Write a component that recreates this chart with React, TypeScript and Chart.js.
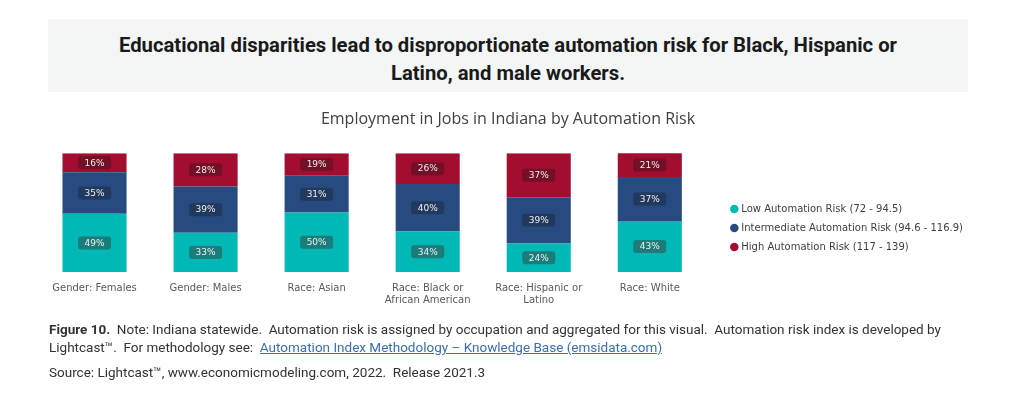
import React, { useEffect, useRef } from "react";
import { Chart, registerables } from "chart.js";

Chart.register(...registerables);

const categories: (string | string[])[] = [
  "Gender: Females",
  "Gender: Males",
  "Race: Asian",
  ["Race: Black or", "African American"],
  ["Race: Hispanic or", "Latino"],
  "Race: White",
];
const lowRisk = [49, 33, 50, 34, 24, 43];
const intermediateRisk = [35, 39, 31, 40, 39, 37];
const highRisk = [16, 28, 19, 26, 37, 21];
const seriesNames = [
  "Low Automation Risk (72 - 94.5)",
  "Intermediate Automation Risk (94.6 - 116.9)",
  "High Automation Risk (117 - 139)",
];
const seriesColors = ["#00b8b5", "#274b80", "#a30d2f"];
const labelBoxColors = ["#1a7d7a", "#22395e", "#730f26"];

const valueLabelPlugin = {
  id: "valueLabels",
  afterDatasetsDraw(chart: any) {
    const ctx = chart.ctx;
    ctx.save();
    chart.data.datasets.forEach((ds: any, di: number) => {
      const meta = chart.getDatasetMeta(di);
      meta.data.forEach((bar: any, i: number) => {
        const v = ds.data[i];
        const top = Math.max(bar.y, chart.chartArea.top);
        const cx = bar.x;
        const cy = (top + bar.base) / 2;
        const w = 33;
        const h = 13;
        ctx.fillStyle = labelBoxColors[di];
        ctx.beginPath();
        ctx.roundRect(cx - w / 2, cy - h / 2, w, h, 3);
        ctx.fill();
        ctx.fillStyle = "#eeeeee";
        ctx.font = "9px 'DejaVu Sans'";
        ctx.textAlign = "center";
        ctx.textBaseline = "middle";
        ctx.fillText(v + "%", cx, cy + 0.5);
      });
    });
    ctx.restore();
  },
};

// leaves a gap between the plot area and the right-hand legend
const legendGapPlugin = {
  id: "legendGap",
  beforeLayout(chart: any) {
    const lg = chart.legend;
    if (lg && !lg.__gapWrapped) {
      const fit = lg.fit;
      lg.fit = function () {
        fit.call(this);
        this.width += 22;
      };
      lg.__gapWrapped = true;
    }
  },
  afterLayout(chart: any) {
    const lg = chart.legend;
    if (lg) lg.left += 18;
  },
};

function ChartView() {
  const ref = useRef<HTMLCanvasElement | null>(null);
  useEffect(() => {
    if (!ref.current) return;
    const data = [lowRisk, intermediateRisk, highRisk];
    const chart = new Chart(ref.current, {
      type: "bar",
      data: {
        labels: categories,
        datasets: data.map((d, i) => ({
          label: seriesNames[i],
          data: d,
          backgroundColor: seriesColors[i],
          borderWidth: 0,
          barPercentage: 0.577,
          categoryPercentage: 1,
        })),
      },
      options: {
        animation: false,
        responsive: false,
        maintainAspectRatio: false,
        layout: { padding: 0 },
        scales: {
          x: {
            stacked: true,
            grid: { display: false, drawTicks: false },
            border: { display: false },
            ticks: {
              padding: 10,
              color: "#595959",
              font: { family: "'DejaVu Sans'", size: 10 },
              maxRotation: 0,
              autoSkip: false,
            },
            afterFit: (scale: any) => {
              scale.height = 80;
            },
          },
          y: {
            stacked: true,
            display: false,
            min: 0,
            max: 100,
          },
        },
        plugins: {
          title: {
            display: true,
            text: "Employment in Jobs in Indiana by Automation Risk",
            color: "#404040",
            font: { family: "'Open Sans'", size: 16, weight: "normal" },
            padding: { top: 6, bottom: 24 },
          },
          legend: {
            position: "right",
            labels: {
              usePointStyle: true,
              pointStyle: "circle",
              boxWidth: 4,
              boxHeight: 6,
              padding: 9,
              color: "#404040",
              font: { family: "'DejaVu Sans'", size: 10 },
            },
          },
          tooltip: { enabled: false },
        },
      },
      plugins: [valueLabelPlugin, legendGapPlugin],
    } as any);
    return () => chart.destroy();
  }, []);
  return (
    <canvas
      ref={ref}
      width={938}
      height={248}
      style={{ position: "absolute", left: 39, top: 104, width: 938, height: 248 }}
    />
  );
}

const lineStyle: React.CSSProperties = { height: 18, lineHeight: "18px", whiteSpace: "nowrap" };

export default function App() {
  return (
    <div
      style={{
        position: "absolute",
        left: 0,
        top: 0,
        width: 1024,
        height: 399,
        background: "#ffffff",
        overflow: "hidden",
      }}
    >
      <div
        style={{
          position: "absolute",
          left: 48,
          top: 19,
          width: 920,
          height: 73,
          background: "#f4f5f5",
          fontFamily: "Roboto, sans-serif",
          fontWeight: 700,
          fontSize: 20.25,
          lineHeight: "28px",
          color: "#1a1a1a",
          textAlign: "center",
          paddingTop: 12,
          boxSizing: "border-box",
        }}
      >
        Educational disparities lead to disproportionate automation risk for Black, Hispanic or
        <br />
        Latino, and male workers.
      </div>
      <ChartView />
      <div
        style={{
          position: "absolute",
          left: 49,
          top: 320,
          width: 960,
          fontFamily: "Roboto, sans-serif",
          fontSize: 13.5,
          color: "#333333",
        }}
      >
        <div style={lineStyle}>
          <b>Figure 10.</b>&nbsp; Note: Indiana statewide.&nbsp; Automation risk is assigned by occupation and aggregated for this visual.&nbsp; Automation risk index is developed by
        </div>
        <div style={lineStyle}>
          Lightcast™.&nbsp; For methodology see:&nbsp;{" "}
          <a style={{ color: "#3a6fb0", textDecoration: "underline" }}>
            Automation Index Methodology – Knowledge Base (emsidata.com)
          </a>
        </div>
        <div style={{ ...lineStyle, marginTop: 7 }}>
          Source: Lightcast™, www.economicmodeling.com, 2022.&nbsp; Release 2021.3
        </div>
      </div>
    </div>
  );
}
